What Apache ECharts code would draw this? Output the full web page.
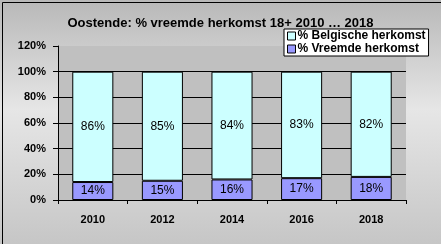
<!DOCTYPE html>
<html><head><meta charset="utf-8">
<script src="https://cdn.jsdelivr.net/npm/echarts@6/dist/echarts.min.js"></script>
<style>html,body{margin:0;padding:0;}#c{width:441px;height:244px;}</style>
</head><body><div id="c"></div>
<script>
var categories = ['2010', '2012', '2014', '2016', '2018'];
var vreemde = [14, 15, 16, 17, 18];
var belgische = [86, 85, 84, 83, 82];
var yTicks = [0, 20, 40, 60, 80, 100, 120];

var chart = echarts.init(document.getElementById('c'));
var font = 'Arial, "Liberation Sans", sans-serif';
chart.setOption({
  animation: false,
  backgroundColor: new echarts.graphic.LinearGradient(0, 0, 0, 1, [
    {offset: 0, color: '#b8b8b8'},
    {offset: 0.45, color: '#e6e6e6'},
    {offset: 1, color: '#c6c6c6'}
  ]),
  title: {
    text: 'Oostende: % vreemde herkomst 18+ 2010 … 2018',
    left: 'center', top: 12,
    textStyle: {fontFamily: font, fontSize: 13, fontWeight: 'bold', color: '#000'}
  },
  legend: {
    orient: 'vertical', left: 284, top: 29,
    backgroundColor: '#fff', borderColor: '#000', borderWidth: 1,
    padding: [1, 3, 1, 3], itemGap: 1, itemWidth: 8, itemHeight: 8, icon: 'rect',
    textStyle: {fontFamily: font, fontSize: 12, fontWeight: 'bold', color: '#000', padding: [0, 0, 0, -3], lineHeight: 11},
    itemStyle: {borderColor: '#000', borderWidth: 1},
    data: ['% Belgische herkomst', '% Vreemde herkomst']
  },
  grid: {left: 58, top: 46, right: 35, bottom: 44, show: true, backgroundColor: '#c0c0c0', borderWidth: 0},
  xAxis: {
    type: 'category', data: categories,
    axisLine: {lineStyle: {color: '#000', width: 1}},
    axisTick: {show: true, length: 4, lineStyle: {color: '#000'}},
    axisLabel: {fontFamily: font, fontSize: 11, fontWeight: 'bold', color: '#000', margin: 14}
  },
  yAxis: {
    type: 'value', min: yTicks[0], max: yTicks[yTicks.length - 1], interval: 20,
    axisLine: {show: true, lineStyle: {color: '#000'}},
    axisTick: {show: true, length: 5, lineStyle: {color: '#000'}},
    axisLabel: {formatter: '{value}%', fontFamily: font, fontSize: 11, fontWeight: 'bold', color: '#000', margin: 12},
    splitLine: {show: true, showMaxLine: false, lineStyle: {color: '#000', width: 1}}
  },
  series: [
    {
      name: '% Vreemde herkomst', type: 'bar', stack: 't', data: vreemde,
      barWidth: '59%',
      itemStyle: {color: '#9999ff', borderColor: '#000', borderWidth: 1},
      label: {show: true, position: 'inside', formatter: '{c}%', fontFamily: font, fontSize: 12, color: '#000'}
    },
    {
      name: '% Belgische herkomst', type: 'bar', stack: 't', data: belgische,
      barWidth: '59%',
      itemStyle: {color: '#ccffff', borderColor: '#000', borderWidth: 1},
      label: {show: true, position: 'inside', formatter: '{c}%', fontFamily: font, fontSize: 12, color: '#000'}
    }
  ],
  graphic: [{
    type: 'rect', left: 0, top: 0, z: 100,
    shape: {x: 0.5, y: 0.5, width: 440, height: 243},
    style: {fill: 'none', stroke: '#000', lineWidth: 1}
  }]
});
</script></body></html>
